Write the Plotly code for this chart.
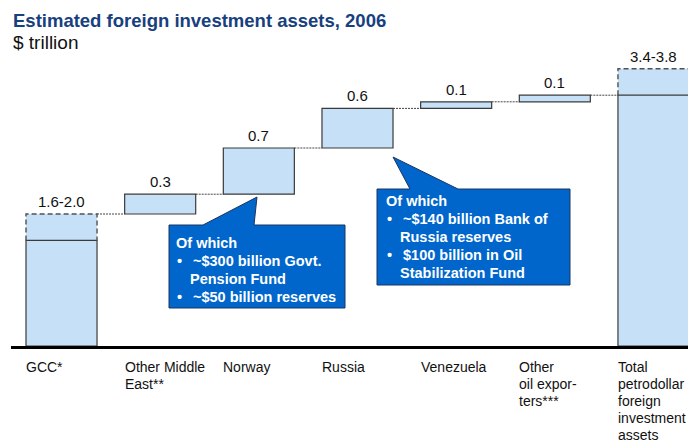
import plotly.graph_objects as go

# ---------------- data ----------------
categories = ["GCC*", "Other Middle East**", "Norway", "Russia", "Venezuela",
              "Other oil exporters***", "Total petrodollar foreign investment assets"]
category_lines = [["GCC*"], ["Other Middle", "East**"], ["Norway"], ["Russia"], ["Venezuela"],
                  ["Other", "oil expor-", "ters***"],
                  ["Total", "petrodollar", "foreign", "investment", "assets"]]
value_labels = ["1.6-2.0", "0.3", "0.7", "0.6", "0.1", "0.1", "3.4-3.8"]
gcc_low, gcc_high = 1.6, 2.0
increments = [0.3, 0.7, 0.6, 0.1, 0.1]          # Other ME, Norway, Russia, Venezuela, Other
total_solid, total_dashed_top = 3.8, 4.2         # as drawn in the picture

callout1 = ["Of which", ("•", "~$300 billion Govt."), (None, "Pension Fund"), ("•", "~$50 billion reserves")]
callout2 = ["Of which", ("•", "~$140 billion Bank of"), (None, "Russia reserves"),
            ("•", "$100 billion in Oil"), (None, "Stabilization Fund")]

# ---------------- geometry helpers ----------------
O = 8                      # page body offset
W, H = 696 - O, 446 - O
ML, MR, MT, MB = 3, 0, 32, 100
PW, PH = W - ML - MR, H - MT - MB
XR = [-0.512, 6.431]
YR = [0, PH / 66.0]
BW = 0.72

def px2x(px):
    return XR[0] + (px - O - ML) / PW * (XR[1] - XR[0])

def py2y(py):
    return YR[0] + (H - MB - (py - O)) / PH * (YR[1] - YR[0])

def px2paper(px):
    return (px - O - ML) / PW

def py2paper(py):
    return (H - MB - (py - O)) / PH

FILL = "#C6E0F8"
EDGE = "#3A3A3A"
FONT = "Liberation Sans, Arial, sans-serif"

bases = []
run = gcc_high
for inc in increments:
    bases.append(run)
    run += inc
tops = [b + v for b, v in zip(bases, increments)]

fig = go.Figure()

fig.add_trace(go.Bar(x=[0, 6], y=[gcc_high - gcc_low, total_dashed_top - total_solid],
                     base=[gcc_low, total_solid], width=BW,
                     marker=dict(color=FILL, line=dict(width=0)), hoverinfo="skip"))
fig.add_trace(go.Bar(x=[0, 1, 2, 3, 4, 5, 6],
                     y=[gcc_low] + increments + [total_solid],
                     base=[0] + bases + [0], width=BW,
                     marker=dict(color=FILL, line=dict(color=EDGE, width=1.2)), hoverinfo="skip"))

for xi, lo, hi in [(0, gcc_low, gcc_high), (6, total_solid, total_dashed_top)]:
    fig.add_trace(go.Scatter(x=[xi - BW / 2, xi - BW / 2, xi + BW / 2, xi + BW / 2],
                             y=[lo, hi, hi, lo], mode="lines",
                             line=dict(color="#505050", width=1.4, dash="5px,3px"), hoverinfo="skip"))

levels = [gcc_high] + tops
for i, lv in enumerate(levels):
    fig.add_trace(go.Scatter(x=[i + BW / 2, i + 1 - BW / 2], y=[lv, lv], mode="lines",
                             line=dict(color="#444444", width=1, dash="2px,1px"), hoverinfo="skip"))

annotations = []
label_tops = [gcc_high] + tops + [total_dashed_top]
for i, (t, lab) in enumerate(zip(label_tops, value_labels)):
    annotations.append(dict(x=i, y=t, text=lab, showarrow=False, yanchor="bottom", yshift=2,
                            font=dict(size=15, color="#111111", family=FONT)))
for i, lines in enumerate(category_lines):
    for j, line in enumerate(lines):
        annotations.append(dict(x=i - BW / 2, xref="x", yref="paper", y=py2paper(367 + 17 * j),
                                text=line, showarrow=False, xanchor="left", yanchor="middle",
                                xshift=-2, font=dict(size=14, color="#111111", family=FONT)))

annotations.append(dict(xref="paper", yref="paper", x=px2paper(11), y=py2paper(20),
                        text="<b>Estimated foreign investment assets, 2006</b>", showarrow=False,
                        xanchor="left", yanchor="middle",
                        font=dict(size=18.5, color="#17407E", family=FONT)))
annotations.append(dict(xref="paper", yref="paper", x=px2paper(11), y=py2paper(43),
                        text="$ trillion", showarrow=False, xanchor="left", yanchor="middle",
                        font=dict(size=19, color="#111111", family=FONT)))

shapes = []
BLUE = "#0066CC"

def callout(path_pts, lines, x_head, x_bullet, x_text, y0, dy):
    pts = [(px2x(a), py2y(b)) for a, b in path_pts]
    path = "M " + " L ".join(f"{a},{b}" for a, b in pts) + " Z"
    shapes.append(dict(type="path", path=path, xref="x", yref="y", fillcolor=BLUE,
                       line=dict(color="#1A3560", width=1), layer="above"))
    for k, item in enumerate(lines):
        yy = py2y(y0 + dy * k)
        if isinstance(item, str):
            annotations.append(dict(x=px2x(x_head), y=yy, text=f"<b>{item}</b>", showarrow=False,
                                    xanchor="left", yanchor="middle",
                                    font=dict(size=14.5, color="white", family=FONT)))
        else:
            b, t = item
            if b:
                annotations.append(dict(x=px2x(x_bullet), y=yy, text=f"<b>{b}</b>", showarrow=False,
                                        xanchor="left", yanchor="middle",
                                        font=dict(size=14.5, color="white", family=FONT)))
            annotations.append(dict(x=px2x(x_text[0] if b else x_text[1]), y=yy, text=f"<b>{t}</b>",
                                    showarrow=False, xanchor="left", yanchor="middle",
                                    font=dict(size=14.5, color="white", family=FONT)))

callout([(169, 225), (203, 225), (257, 197), (254, 225), (345, 225), (345, 308), (169, 308)],
        callout1, 174, 175, (191, 188), 243, 18)
callout([(377, 189), (410, 189), (393, 157), (458, 189), (570, 189), (570, 285), (377, 285)],
        callout2, 384, 385, (401, 398), 201, 18)

fig.update_layout(
    width=W, height=H, margin=dict(l=ML, r=MR, t=MT, b=MB),
    paper_bgcolor="white", plot_bgcolor="white", showlegend=False, barmode="overlay",
    xaxis=dict(range=XR, showgrid=False, zeroline=False, showticklabels=False, ticks="",
               showline=True, linecolor="black", linewidth=3, fixedrange=True),
    yaxis=dict(range=YR, showgrid=False, zeroline=False, showticklabels=False, ticks="",
               showline=False, fixedrange=True),
    annotations=annotations, shapes=shapes,
)
fig.write_html("out.html")
